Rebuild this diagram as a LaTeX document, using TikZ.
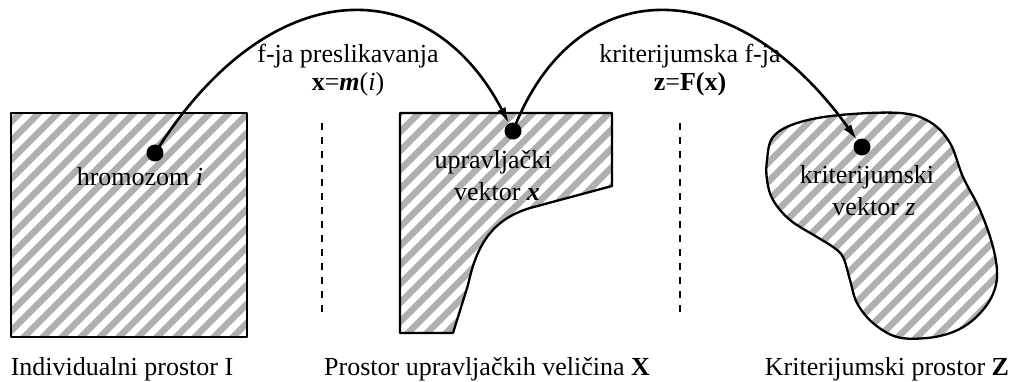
\documentclass[tikz,border=0pt]{standalone}
\usepackage{fontspec}
\setmainfont{Liberation Serif}
\usetikzlibrary{arrows.meta}
\tikzset{
  lbl/.style={font=\fontsize{26}{32}\selectfont, anchor=base, inner sep=0pt},
  outline/.style={draw=black, line width=2.3pt, line join=round},
  stripe/.style={draw=gray!62, line width=6.5pt},
  dot/.style={circle, fill=black, inner sep=0pt, minimum size=17pt},
  conn/.style={line width=2.6pt, -{Latex[length=16pt,width=9pt]}},
  sep/.style={line width=2pt, dash pattern=on 7pt off 7pt}
}
\newcommand{\stripesin}{\foreach \i in {-420,-401,...,1040} {\draw[stripe] (\i,420) -- ++(440,-440);}}
\begin{document}
\begin{tikzpicture}[x=1pt,y=-1pt]
\useasboundingbox (0,0) rectangle (1016,381);
% --- shape 1: square
\begin{scope}
  \clip (11,113) rectangle (247,337);
  \stripesin
\end{scope}
\draw[outline] (11,113) rectangle (247,337);
% --- shape 2
\def\shapeB{(400,113) -- (612,113) -- (612,186) -- (530,208) .. controls (490,220) and (476,248) .. (468,285) -- (453,333) -- (400,333) -- cycle}
\begin{scope}
  \clip \shapeB;
  \stripesin
\end{scope}
\draw[outline] \shapeB;
% --- shape 3: blob
\def\shapeC{plot[smooth cycle, tension=0.6] coordinates {(767,160) (773,137) (797,123) (840,115) (900,113) (930,122) (950,143) (963,177) (980,210) (993,247) (997,277) (990,300) (973,320) (953,332) (927,338) (897,337) (873,323) (857,303) (850,280) (843,257) (833,247) (817,237) (790,220) (773,200) (767,180)}}
\begin{scope}
  \clip \shapeC;
  \stripesin
\end{scope}
\draw[outline] \shapeC;
% --- dashed separators
\coordinate (s1t) at (322,123); \coordinate (s1b) at (322,313);
\coordinate (s2t) at (680,123); \coordinate (s2b) at (680,313);
\draw[sep] (s1t) -- (s1b);
\draw[sep] (s2t) -- (s2b);
% --- dots
\node[dot] (d1) at (155,153) {};
\node[dot] (d2) at (513,131) {};
\node[dot] (d3) at (862,147) {};
% --- connectors
\draw[conn] (d1.center) .. controls (270,-30) and (429,-30) .. (d2);
\draw[conn] (d2.center) .. controls (575,-30) and (735,-30) .. (d3);
% --- labels
\node[lbl] (t1a) at (348,62) {f-ja preslikavanja};
\node[lbl] (t1b) at (348,90) {\textbf{x}=\textbf{\textit{m}}(\textit{i})};
\node[lbl] (t2a) at (690,62) {kriterijumska f-ja};
\node[lbl] (t2b) at (690,90) {\textbf{z}=\textbf{F(x)}};
\node[lbl] (h1) at (140,185) {hromozom \textit{i}};
\node[lbl] (u1) at (493,168) {upravljački};
\node[lbl] (u2) at (497,200) {vektor \textbf{\textit{x}}};
\node[lbl] (k1) at (867,183) {kriterijumski};
\node[lbl] (k2) at (874,215) {vektor \textit{z}};
\node[lbl] (b1) at (122,375) {Individualni prostor I};
\node[lbl] (b2) at (487,375) {Prostor upravljačkih veličina \textbf{X}};
\node[lbl] (b3) at (887,375) {Kriterijumski prostor \textbf{Z}};
\end{tikzpicture}
\end{document}
